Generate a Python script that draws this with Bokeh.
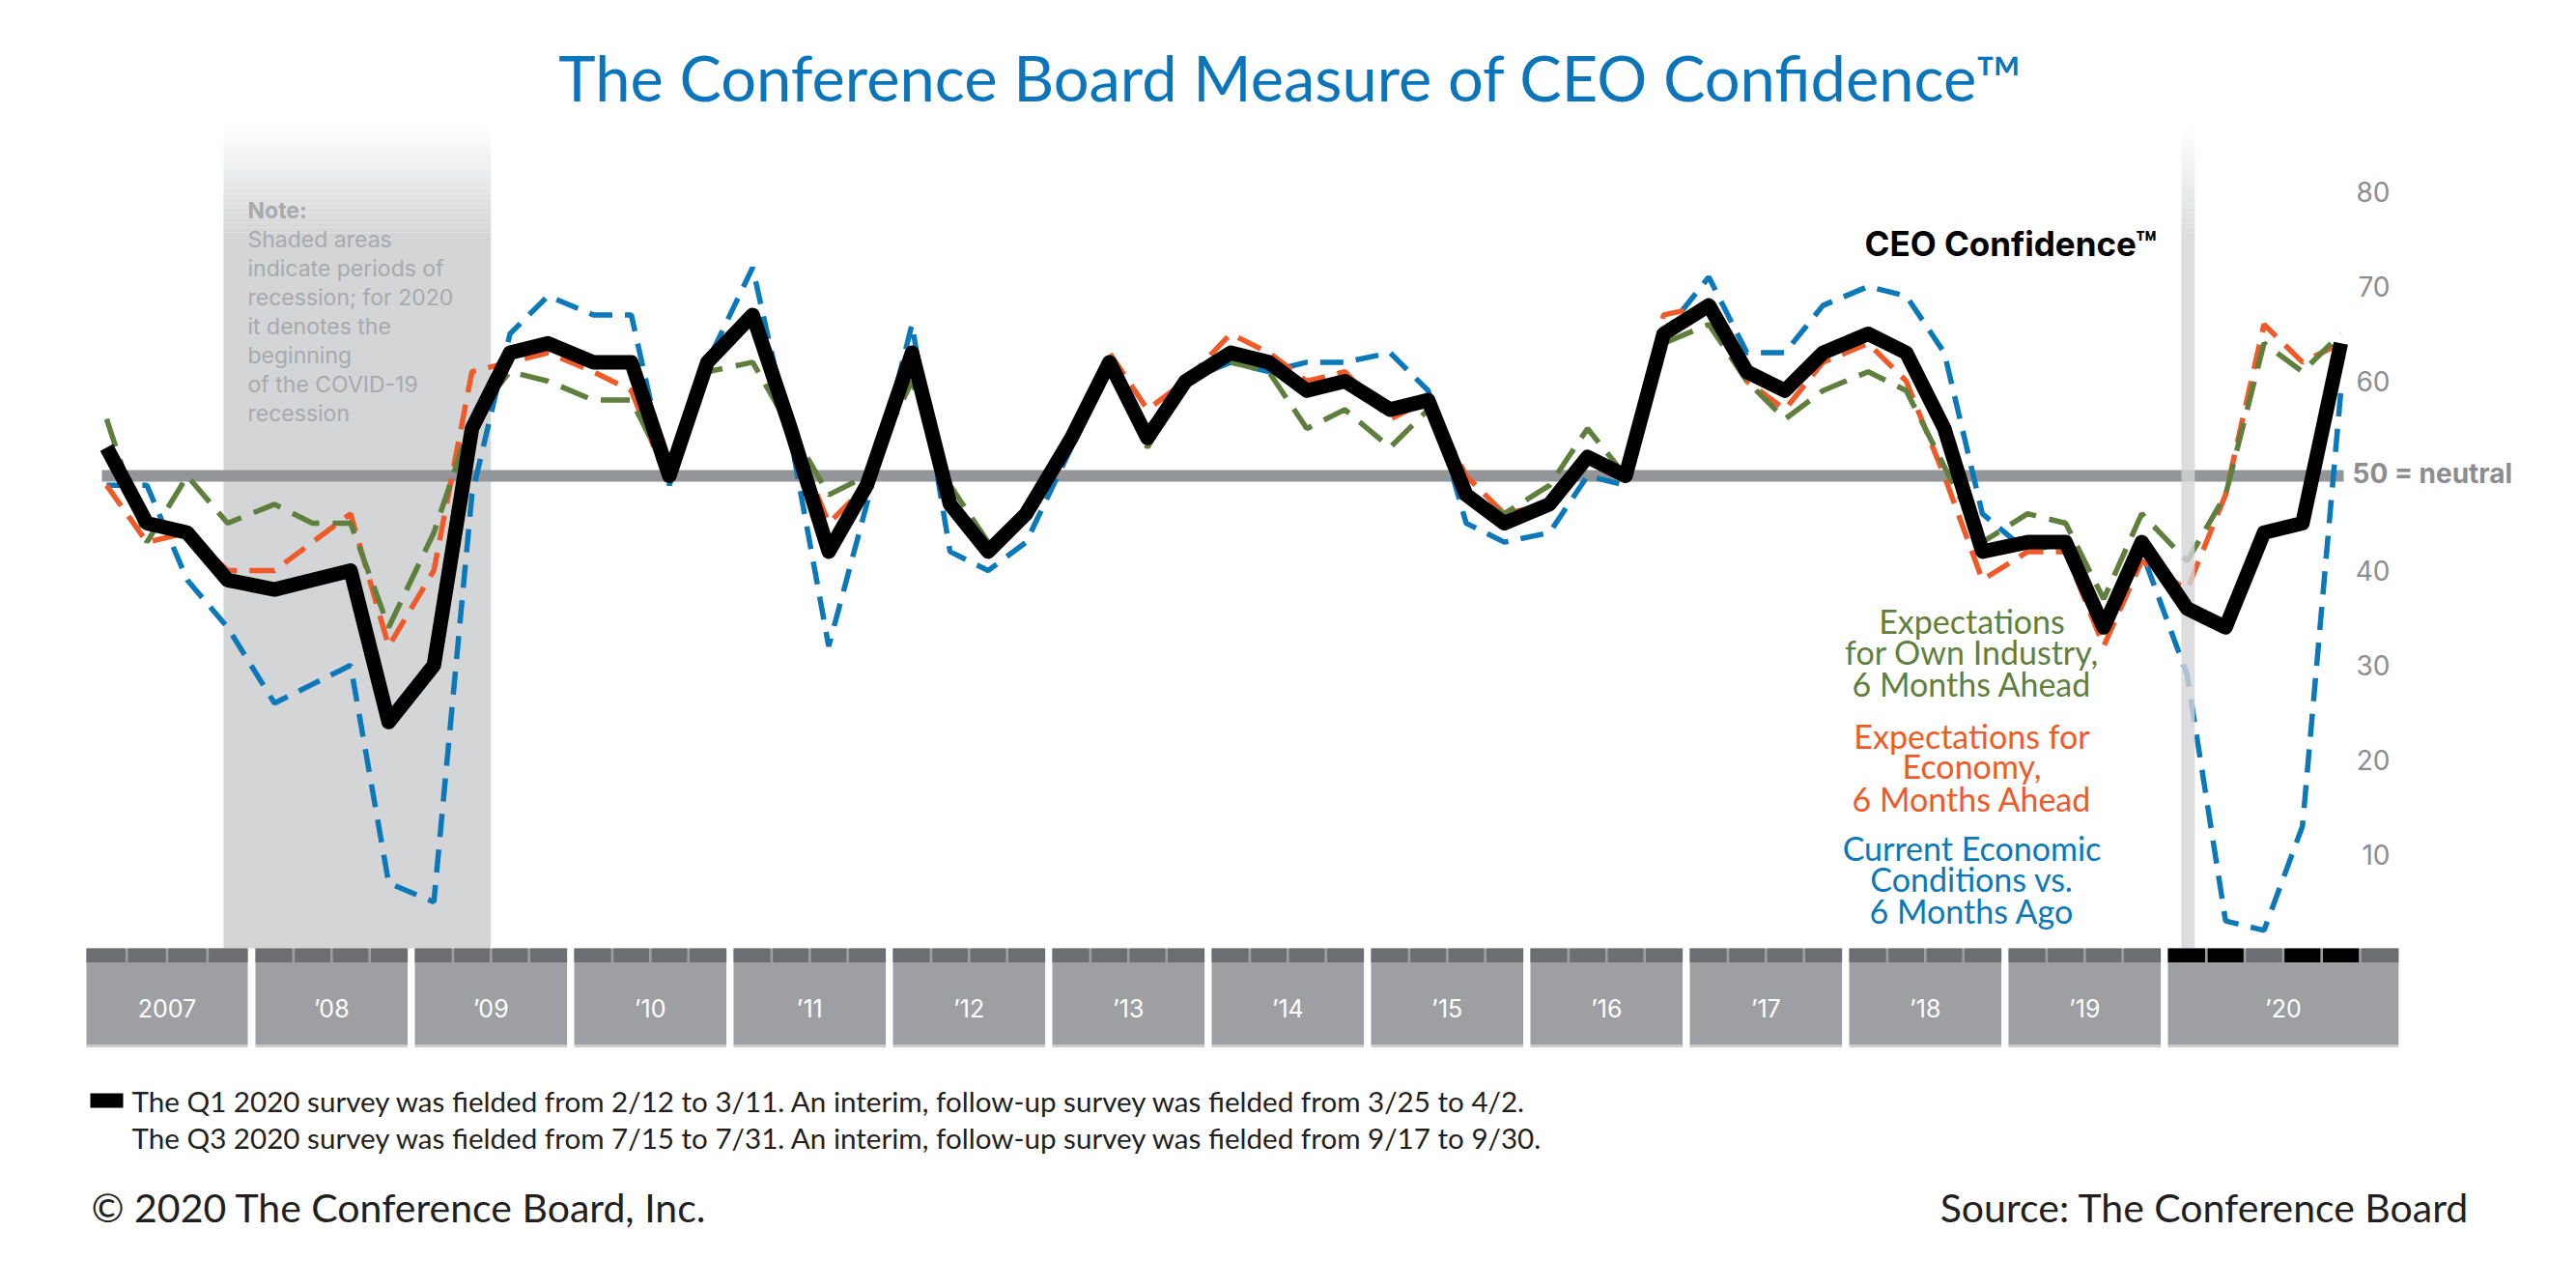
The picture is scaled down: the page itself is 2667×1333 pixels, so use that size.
from bokeh.plotting import figure
from bokeh.models import Range1d
from bokeh.embed import file_html
from bokeh.resources import INLINE
from bokeh.core.properties import value

# ---------------- DATA ----------------
years = list(range(2007, 2021))
year_labels = ["2007", "’08", "’09", "’10", "’11", "’12", "’13", "’14",
               "’15", "’16", "’17", "’18", "’19", "’20"]
slots_per_year = [4] * 13 + [6]
periods = [f"{y} Q{q}" for y in range(2007, 2020) for q in range(1, 5)] + \
          ["2020 Q1", "2020 Q1 interim", "2020 Q2", "2020 Q3", "2020 Q3 interim"]

ceo_confidence = [53, 45, 44, 39, 38, 39, 40, 24, 30, 55, 63, 64, 62, 62, 50, 62,
                  67, 55, 42, 49, 63, 47, 42, 46, 54, 62, 54, 60, 63, 62, 59, 60,
                  57, 58, 48, 45, 47, 52, 50, 65, 68, 61, 59, 63, 65, 63, 55, 42,
                  43, 43, 34, 43, 36, 34, 44, 45, 64]
own_industry = [56, 43, 50, 45, 47, 45, 45, 34, 44, 56, 61, 60, 58, 58, 50, 61,
                62, 55, 48, 50, 60, 49, 43, 46, 54, 62, 53, 60, 62, 61, 55, 57,
                53, 57, 48, 46, 49, 55, 50, 64, 66, 60, 56, 59, 61, 59, 51, 43,
                46, 45, 37, 46, 41, 48, 64, 61, 65]
economy = [49, 43, 44, 40, 40, 43, 46, 32, 40, 61, 62, 63, 61, 59, 49, 62,
           67, 55, 45, 49, 63, 47, 42, 46, 54, 63, 57, 60, 65, 63, 60, 61,
           56, 58, 50, 46, 47, 52, 50, 67, 68, 60, 57, 62, 64, 60, 50, 39,
           42, 42, 32, 41, 38, 48, 66, 62, 64]
current_conditions = [49, 49, 39, 34, 26, 28, 30, 7, 5, 48, 65, 69, 67, 67, 49, 62,
                      72, 54, 32, 47, 66, 42, 40, 43, 53, 62, 55, 60, 62, 61, 62, 62,
                      63, 59, 45, 43, 44, 50, 49, 65, 71, 63, 63, 68, 70, 69, 63, 46,
                      42, 43, 35, 42, 29, 3, 2, 13, 59]
survey_slots_2020 = [0, 1, 3, 4]          # black boxes: fielded surveys in 2020
recessions = [((2007, 3.4), (2009, 2.0)), ((2020, 0.35), (2020, 0.7))]
y_ticks = [10, 20, 30, 40, 60, 70, 80]
neutral = 50

period_year = [int(p[:4]) for p in periods]
period_slot = [period_year[:i].count(y) for i, y in enumerate(period_year)]

# ---------------- GEOMETRY ----------------
W, H = 2651, 1317
S = 9.8          # px per index point
V0 = 982.0       # image y of value 0


def Y(py):
    return (V0 - py) / S


def box(k):
    if k == 0:
        return 89.0, 256.0
    L = 99.0 + 165.0 * k
    return L, L + (157.6 if slots_per_year[k] == 4 else 238.8)


def slot_x(year, s):
    k = years.index(year)
    L, R = box(k)
    return L + (R - L) / slots_per_year[k] * s


xs = [slot_x(y, s + 0.5) for y, s in zip(period_year, period_slot)]

p = figure(width=W, height=H, x_range=Range1d(0, W), y_range=Range1d(Y(H), Y(0)),
           output_backend="svg", toolbar_location=None, x_axis_type=None, y_axis_type=None,
           min_border=0, min_border_left=0, min_border_right=0, min_border_top=0,
           min_border_bottom=0)
p.grid.visible = False
p.outline_line_color = None
p.background_fill_color = "white"
p.border_fill_color = "white"

SHADE = "#d4d5d7"


def shade(x0, x1, alpha_scale=1.0):
    n = 22
    top, solid = 130.0, 240.0
    step = (solid - top) / n
    tops, bots, als = [], [], []
    for i in range(n):
        tops.append(Y(top + i * step))
        bots.append(Y(top + (i + 1) * step))
        als.append((i + 0.5) / n * alpha_scale)
    p.quad(left=[x0] * n, right=[x1] * n, top=tops, bottom=bots, fill_color=SHADE,
           fill_alpha=als, line_color=None)
    p.quad(left=[x0], right=[x1], top=[Y(solid)], bottom=[Y(981)], fill_color=SHADE,
           fill_alpha=alpha_scale, line_color=None)


(ry0, rs0), (ry1, rs1) = recessions[0]
shade(slot_x(ry0, rs0), slot_x(ry1, rs1))

# note
note_font = value("Inter")
p.text(x=[256], y=[Y(217)], text=["Note:"], text_font=note_font, text_font_size="23px",
       text_font_style="bold", text_color="#a7a9ac", text_baseline="middle", text_align="left")
note_lines = ["Shaded areas", "indicate periods of", "recession; for 2020", "it denotes the",
              "beginning", "of the COVID-19", "recession"]
p.text(x=[256] * len(note_lines), y=[Y(247 + 30 * i) for i in range(len(note_lines))],
       text=note_lines, text_font=note_font, text_font_size="23px", text_color="#a7a9ac",
       text_baseline="middle", text_align="left")

# neutral line
p.segment(x0=[105], y0=[neutral], x1=[2426], y1=[neutral], line_color="#939598", line_width=12)

BLUE, ORANGE, GREEN = "#0a78b9", "#f05a28", "#5f7f3c"
p.line(xs, current_conditions, line_color=BLUE, line_width=5.5, line_dash="24 13")
p.line(xs, economy, line_color=ORANGE, line_width=5.5, line_dash="26 13")
p.line(xs, own_industry, line_color=GREEN, line_width=5.5, line_dash="30 14")

(ry0, rs0), (ry1, rs1) = recessions[1]
shade(slot_x(ry0, rs0), slot_x(ry1, rs1), alpha_scale=0.8)

p.line(xs, ceo_confidence, line_color="black", line_width=15, line_join="round")

# year band
LIGHT, DARK = "#9d9fa2", "#6d6e71"
for k, yr in enumerate(years):
    L, R = box(k)
    p.quad(left=[L], right=[R], top=[Y(981)], bottom=[Y(1081)], fill_color=LIGHT, line_color=None)
    p.quad(left=[L], right=[R], top=[Y(1081)], bottom=[Y(1083.5)], fill_color="#c9cacc", line_color=None)
    n = slots_per_year[k]
    sw = (R - L) / n
    lefts = [L + sw * j + (0 if j == 0 else 1.3) for j in range(n)]
    rights = [L + sw * (j + 1) - (0 if j == n - 1 else 1.3) for j in range(n)]
    cols = ["black" if (yr == 2020 and j in survey_slots_2020) else DARK for j in range(n)]
    p.quad(left=lefts, right=rights, top=[Y(981)] * n, bottom=[Y(995.5)] * n,
           fill_color=cols, line_color=None)
    p.text(x=[(L + R) / 2], y=[Y(1043)], text=[year_labels[k]], text_font=value("Inter"),
           text_font_size="25px", text_color="white", text_align="center", text_baseline="middle")

# y tick labels
p.text(x=[2474] * len(y_ticks), y=y_ticks, text=[str(t) for t in y_ticks], text_font=value("Inter"),
       text_font_size="28px", text_color="#8b8d90", text_align="right", text_baseline="middle")
p.text(x=[2435], y=[neutral + 0.3], text=[f"{neutral} = neutral"], text_font=value("Inter"),
       text_font_size="28px", text_font_style="bold", text_color="#8b8d90",
       text_align="left", text_baseline="middle")

# series labels
p.text(x=[1930], y=[Y(251)], text=["CEO Confidence™"], text_font=value("Inter"),
       text_font_size="35px", text_font_style="bold", text_color="black",
       text_align="left", text_baseline="middle")
lab_font = value("Lato")
groups = [(["Expectations", "for Own Industry,", "6 Months Ahead"], [642, 674, 707], GREEN),
          (["Expectations for", "Economy,", "6 Months Ahead"], [761, 792, 826], ORANGE),
          (["Current Economic", "Conditions vs.", "6 Months Ago"], [877, 909, 942], BLUE)]
for lines, ys, col in groups:
    p.text(x=[2041] * 3, y=[Y(v) for v in ys], text=lines, text_font=lab_font,
           text_font_size="34px", text_color=col, text_align="center", text_baseline="middle")

# title
p.text(x=[1336], y=[Y(79)], text=["The Conference Board Measure of CEO Confidence™"],
       text_font=value("Lato"), text_font_size="65px", text_color="#0b75bb",
       text_align="center", text_baseline="middle")

# footnotes
p.quad(left=[93], right=[127], top=[Y(1131)], bottom=[Y(1146)], fill_color="black", line_color=None)
p.text(x=[136, 136], y=[Y(1139), Y(1177)],
       text=["The Q1 2020 survey was fielded from 2/12 to 3/11. An interim, follow-up survey was fielded from 3/25 to 4/2.",
             "The Q3 2020 survey was fielded from 7/15 to 7/31. An interim, follow-up survey was fielded from 9/17 to 9/30."],
       text_font=value("Lato"), text_font_size="29.6px", text_color="#231f20",
       text_align="left", text_baseline="middle")
p.text(x=[94], y=[Y(1249)], text=["© 2020 The Conference Board, Inc."], text_font=value("Lato"),
       text_font_size="41px", text_color="#231f20", text_align="left", text_baseline="middle")
p.text(x=[2556], y=[Y(1249)], text=["Source: The Conference Board"], text_font=value("Lato"),
       text_font_size="41px", text_color="#231f20", text_align="right", text_baseline="middle")

open("out.html", "w").write(file_html(p, INLINE))
